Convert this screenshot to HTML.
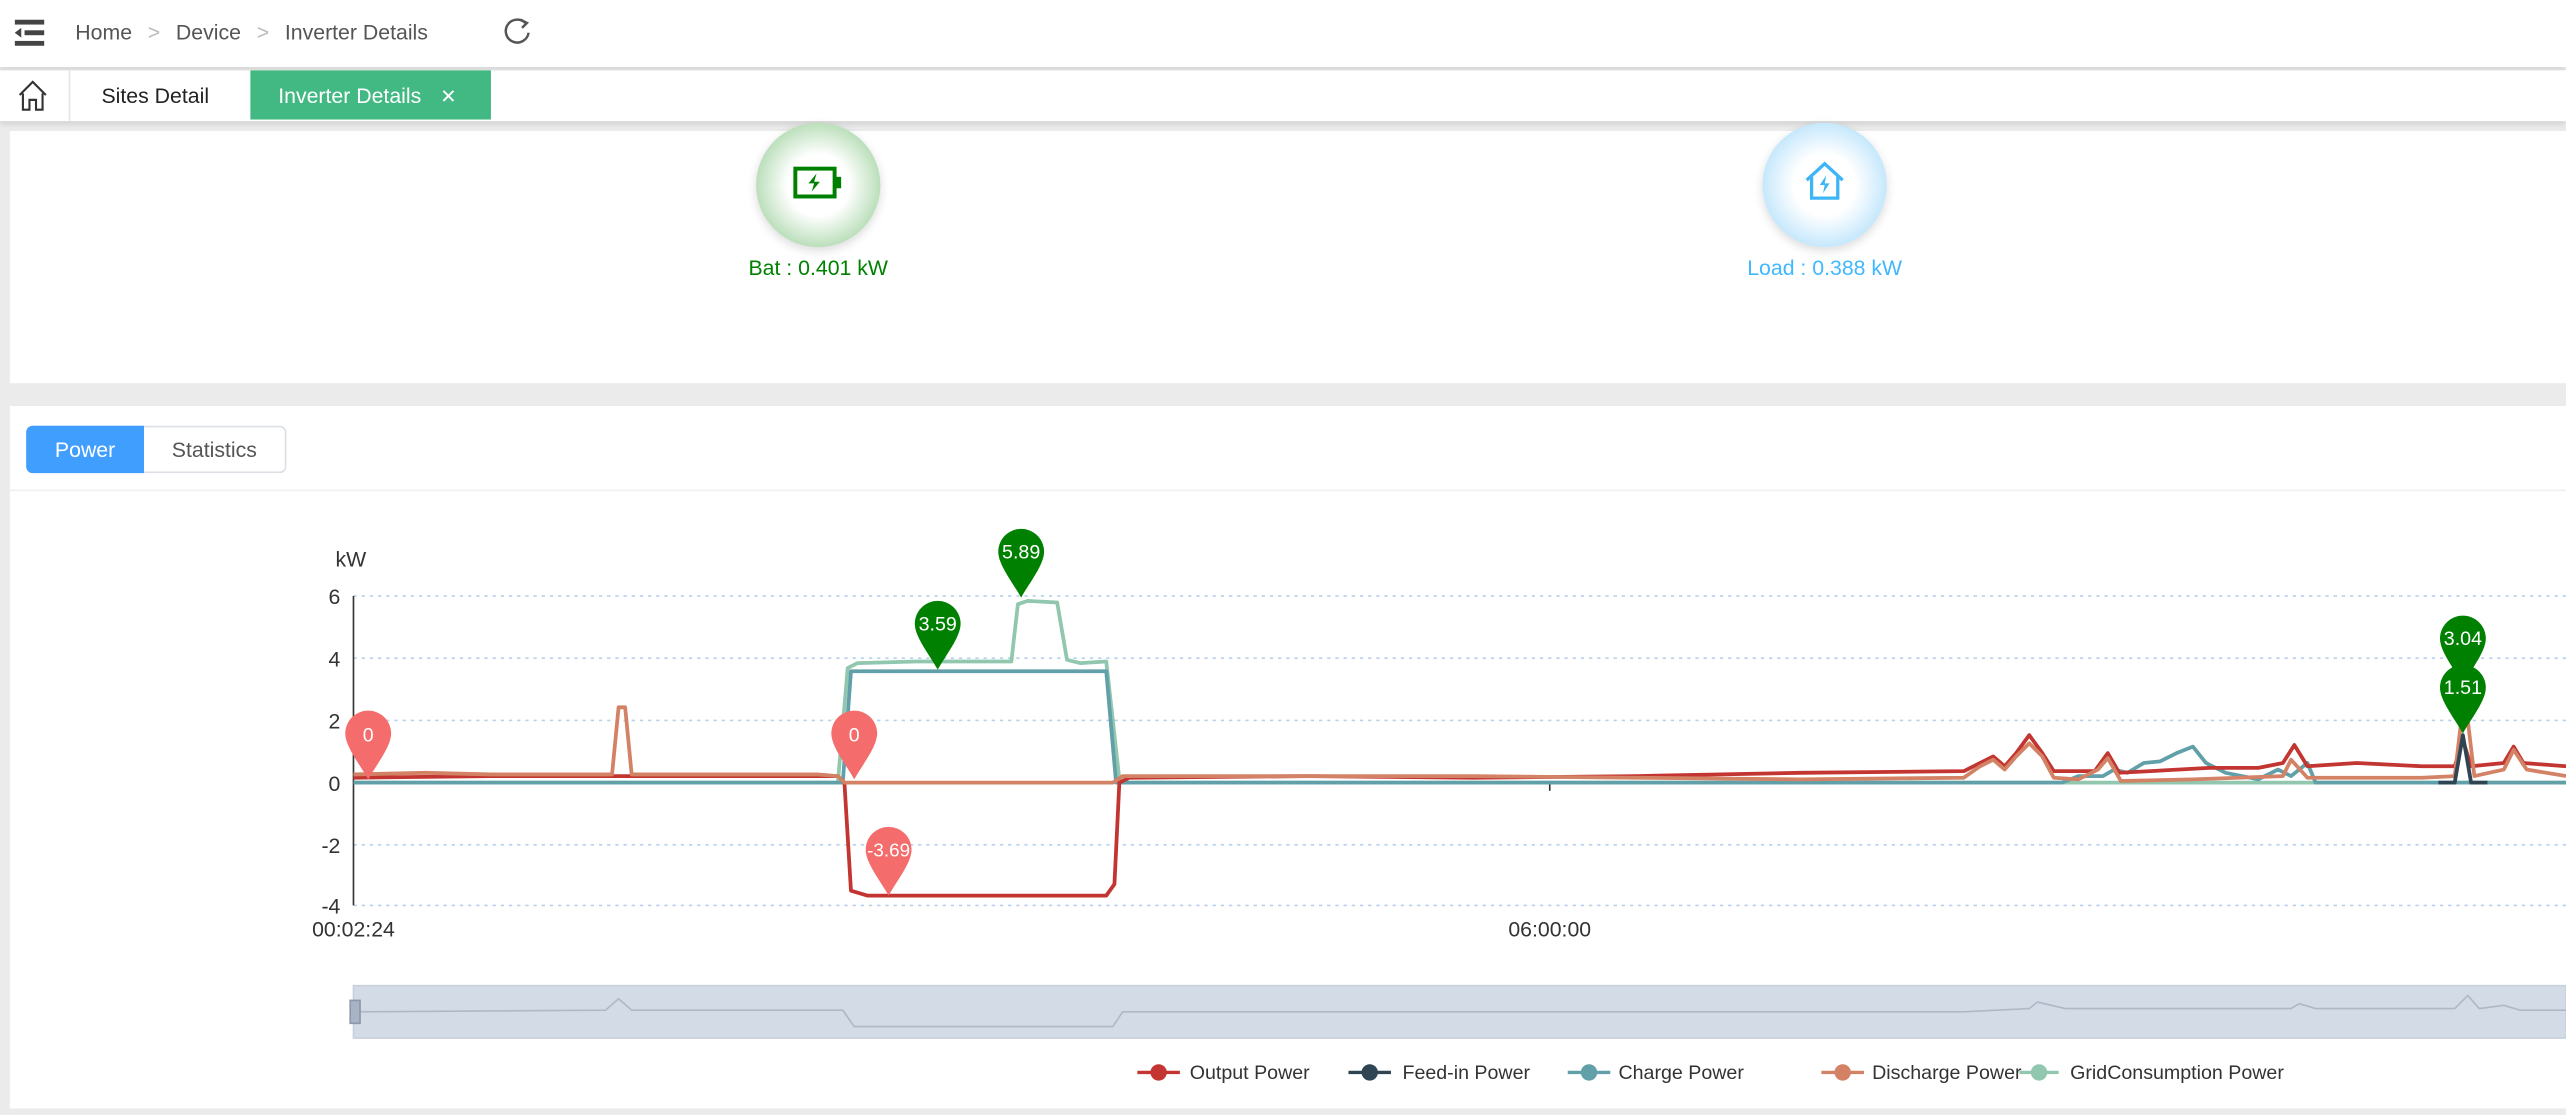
<!DOCTYPE html>
<html><head><meta charset="utf-8"><style>
html,body{margin:0;padding:0;background:#fff;overflow:hidden;width:2566px;height:1115px}
#w{position:absolute;left:0;top:0;width:1568px;height:681px;transform-origin:0 0;transform:scale(1.63648,1.6373);font-family:"Liberation Sans",sans-serif;background:#ebebeb}
.a{position:absolute}
</style></head><body><div id="w">
<div class="a" style="left:0;top:0;width:1568px;height:41px;background:#fff;box-shadow:0 1px 3px rgba(0,0,0,.12)"></div>
<svg class="a" style="left:9px;top:12px" width="20" height="16"><rect x="0" y="0" width="18" height="3" fill="#444"/><rect x="6" y="6.5" width="12" height="3" fill="#444"/><rect x="0" y="13" width="18" height="3" fill="#444"/><path d="M0 8 L4 5 L4 11Z" fill="#444"/></svg>
<div class="a" style="left:46px;top:12px;font-size:13px;color:#555;white-space:nowrap">Home <span style="color:#bbb;margin:0 6px">&gt;</span> Device <span style="color:#bbb;margin:0 6px">&gt;</span> Inverter Details</div>
<svg class="a" style="left:306px;top:10px" width="20" height="20"><path d="M15 4 A7 7 0 1 0 17 10" fill="none" stroke="#555" stroke-width="1.5"/><path d="M12 2 L16 4 L13 7" fill="none" stroke="#555" stroke-width="1.5"/></svg>
<div class="a" style="left:0;top:43px;width:1568px;height:31px;background:#fff;box-shadow:0 2px 3px rgba(0,0,0,.1)"></div>
<svg class="a" style="left:11px;top:49px" width="18" height="20"><path d="M1 9 L9 1 L17 9 M3 8 V18 H7 V12 H11 V18 H15 V8" fill="none" stroke="#333" stroke-width="1.3"/></svg>
<div class="a" style="left:42px;top:43px;width:1px;height:31px;background:#e5e5e5"></div>
<div class="a" style="left:62px;top:51px;font-size:13px;color:#222">Sites Detail</div>
<div class="a" style="left:153px;top:43px;width:147px;height:30px;background:#42b983"></div>
<div class="a" style="left:170px;top:51px;font-size:13px;color:#fff;white-space:nowrap">Inverter Details <span style="margin-left:8px;font-size:12px">✕</span></div>
<div class="a" style="left:6px;top:80px;width:1562px;height:154px;background:#fff"></div>
<div class="a" style="left:462px;top:75px;width:76px;height:76px;border-radius:50%;background:radial-gradient(circle,#fff 35%,#8cc98c 95%);box-shadow:0 2px 6px rgba(0,0,0,.15)"></div>
<svg class="a" style="left:484px;top:101px" width="32" height="22"><rect x="2" y="2" width="24" height="17" fill="none" stroke="#008000" stroke-width="2.4"/><rect x="26" y="7" width="4" height="7" fill="#008000"/><path d="M15 5 L10 11 L13.5 11 L12 16 L17 10 L13.5 10Z" fill="#008000"/></svg>
<div class="a" style="left:420px;top:156px;width:160px;text-align:center;font-size:13px;color:#008000">Bat : 0.401 kW</div>
<div class="a" style="left:1077px;top:75px;width:76px;height:76px;border-radius:50%;background:radial-gradient(circle,#fff 35%,#9ed8fa 95%);box-shadow:0 2px 6px rgba(0,0,0,.15)"></div>
<svg class="a" style="left:1102px;top:98px" width="26" height="26"><path d="M2 12 L13 2 L24 12 M5 10 V23 H21 V10" fill="none" stroke="#3fb5f5" stroke-width="2"/><path d="M14 9 L10 15 L13 15 L12 20 L16 14 L13 14Z" fill="#3fb5f5"/></svg>
<div class="a" style="left:1035px;top:156px;width:160px;text-align:center;font-size:13px;color:#40b8ff">Load : 0.388 kW</div>
<div class="a" style="left:6px;top:248px;width:1562px;height:429px;background:#fff"></div>
<div class="a" style="left:16px;top:260px;width:157px;height:27px;border:1px solid #dcdfe6;border-radius:4px;background:#fff"></div>
<div class="a" style="left:16px;top:260px;width:72px;height:29px;background:#409eff;border-radius:4px 0 0 4px;color:#fff;font-size:13px;line-height:29px;text-align:center">Power</div>
<div class="a" style="left:88px;top:260px;width:86px;height:29px;color:#555;font-size:13px;line-height:29px;text-align:center">Statistics</div>
<div class="a" style="left:6px;top:299px;width:1562px;height:1px;background:#f0f0f0"></div>
<svg class="a" style="left:0;top:300px" width="1568" height="381" viewBox="0 300 1568 381" font-family="Liberation Sans, sans-serif">
<g stroke="#b5d2ee" stroke-dasharray="2,3" stroke-width="1">
<line x1="216" y1="364" x2="1568" y2="364"/><line x1="216" y1="402" x2="1568" y2="402"/><line x1="216" y1="440" x2="1568" y2="440"/><line x1="216" y1="516" x2="1568" y2="516"/><line x1="216" y1="553" x2="1568" y2="553"/></g>
<line x1="216" y1="364" x2="216" y2="553" stroke="#333"/>
<line x1="216" y1="478" x2="1568" y2="478" stroke="#333"/>
<line x1="947" y1="478" x2="947" y2="483" stroke="#333"/>
<g font-size="13" fill="#333" text-anchor="end"><text x="208" y="369">6</text><text x="208" y="407">4</text><text x="208" y="445">2</text><text x="208" y="483">0</text><text x="208" y="521">-2</text><text x="208" y="558">-4</text></g>
<text x="205" y="346" font-size="13" fill="#333">kW</text>
<text x="216" y="572" font-size="13" fill="#333" text-anchor="middle">00:02:24</text>
<text x="947" y="572" font-size="13" fill="#333" text-anchor="middle">06:00:00</text>
<g fill="none" stroke-width="2.3" stroke-linejoin="round">
<polyline stroke="#91c7ae" points="216,478 512,478 518,408 524,405 560,404 600,404 618,404 622,369 628,367 646,368 652,403 660,405 676,404 684,476 690,478 1568,478"/>
<polyline stroke="#61a0a8" points="216,478 515,478 520,410 676,410 682,478 1260,478 1270,474 1285,474 1292,470 1300,472 1310,466 1320,465 1330,460 1340,456 1348,466 1360,472 1380,476 1392,470 1400,474 1410,466 1415,478 1568,478"/>
<polyline stroke="#c23531" points="216,475 300,474 400,474 512,474 516,478 520,544 530,547 676,547 681,540 684,478 690,475 800,474 900,475 1000,474 1100,472 1200,471 1210,466 1218,462 1225,468 1232,460 1240,449 1248,460 1255,471 1280,471 1288,460 1295,472 1350,469 1380,469 1395,466 1402,455 1410,468 1440,466 1480,468 1500,468 1505,452 1510,468 1530,466 1536,456 1542,466 1568,468"/>
<polyline stroke="#d48265" points="216,473 260,472 300,473 360,473 374,473 378,432 382,432 386,473 420,473 500,473 512,474 516,478 680,478 686,474 760,474 900,474 1000,475 1100,476 1200,475 1210,468 1218,464 1225,470 1232,462 1240,454 1248,462 1255,475 1270,476 1282,470 1288,463 1296,477 1340,476 1395,474 1400,464 1410,475 1480,475 1500,474 1504,440 1508,440 1512,474 1530,470 1536,458 1544,470 1568,474"/>
<polyline stroke="#2f4554" points="1490,478 1500,478 1505,449 1510,478 1520,478"/>
</g>
<g font-size="12" text-anchor="middle" fill="#fff">
<path d="M225 476 C220 467 211 456 211 448 A14 14 0 1 1 239 448 C239 456 230 467 225 476Z" fill="#f56c6c"/><text x="225" y="453">0</text>
<path d="M522 476 C517 467 508 456 508 448 A14 14 0 1 1 536 448 C536 456 527 467 522 476Z" fill="#f56c6c"/><text x="522" y="453">0</text>
<path d="M543 547 C538 538 529 527 529 519 A14 14 0 1 1 557 519 C557 527 548 538 543 547Z" fill="#f56c6c"/><text x="543" y="523" font-size="11.5">-3.69</text>
<path d="M573 409 C568 400 559 389 559 381 A14 14 0 1 1 587 381 C587 389 578 400 573 409Z" fill="#008000"/><text x="573" y="385">3.59</text>
<path d="M624 365 C619 356 610 345 610 337 A14 14 0 1 1 638 337 C638 345 629 356 624 365Z" fill="#008000"/><text x="624" y="341">5.89</text>
<path d="M1505 418 C1500 409 1491 398 1491 390 A14 14 0 1 1 1519 390 C1519 398 1510 409 1505 418Z" fill="#008000"/><text x="1505" y="394">3.04</text>
<path d="M1505 448 C1500 439 1491 428 1491 420 A14 14 0 1 1 1519 420 C1519 428 1510 439 1505 448Z" fill="#008000"/><text x="1505" y="424">1.51</text>
</g>
<rect x="216" y="602" width="1352" height="32" fill="#d3dbe6" stroke="#c8d0dc"/>
<polyline fill="none" stroke="#b0b8c8" points="216,618 370,617 378,610 386,617 515,617 522,627 680,627 686,618 1200,618 1240,616 1245,612 1262,616 1400,616 1405,613 1415,616 1500,616 1508,608 1515,616 1530,614 1540,617 1568,617"/>
<rect x="214" y="611" width="6" height="14" fill="#a8b4c6" stroke="#8c98aa"/>
<g font-size="12" fill="#333">
<line x1="695" y1="655" x2="721" y2="655" stroke="#c23531" stroke-width="2"/><circle cx="708" cy="655" r="5" fill="#c23531"/><text x="727" y="659">Output Power</text>
<line x1="824" y1="655" x2="850" y2="655" stroke="#2f4554" stroke-width="2"/><circle cx="837" cy="655" r="5" fill="#2f4554"/><text x="857" y="659">Feed-in Power</text>
<line x1="958" y1="655" x2="984" y2="655" stroke="#61a0a8" stroke-width="2"/><circle cx="971" cy="655" r="5" fill="#61a0a8"/><text x="989" y="659">Charge Power</text>
<line x1="1113" y1="655" x2="1139" y2="655" stroke="#d48265" stroke-width="2"/><circle cx="1126" cy="655" r="5" fill="#d48265"/><text x="1144" y="659">Discharge Power</text>
<line x1="1234" y1="655" x2="1258" y2="655" stroke="#91c7ae" stroke-width="2"/><circle cx="1246" cy="655" r="5" fill="#91c7ae"/><text x="1265" y="659">GridConsumption Power</text>
</g>
</svg>
</div></body></html>
